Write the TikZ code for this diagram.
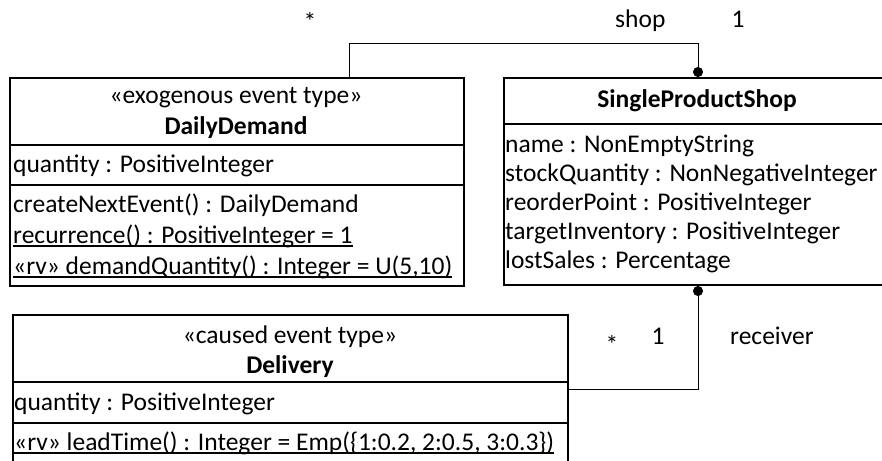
\documentclass[tikz,border=0pt]{standalone}
\usepackage{fontspec}
\setmainfont{Carlito}
\usetikzlibrary{arrows.meta}
\newcommand\ulined[1]{\setbox0=\hbox{#1}\makebox[0pt][l]{\rule[-3.5pt]{\wd0}{1.5pt}}\box0}

\begin{document}
\begin{tikzpicture}[x=1pt, y=-1pt,
    every node/.style={inner sep=0pt, font=\fontsize{25.5}{30}\selectfont},
    classbox/.style={draw, line width=2pt, anchor=north west},
    sep/.style={line width=2pt},
    txt/.style={anchor=base west},
    ctr/.style={anchor=base},
    assoc/.style={line width=1pt}]
            \useasboundingbox (0,0) rectangle (882,460);
            \clip (0,0) rectangle (882,460);

            % Class boxes
            \node [classbox, minimum width=454pt, minimum height=208pt] (dd) at (9,77) {};
            \node [classbox, minimum width=388pt, minimum height=207pt] (sps) at (503,77) {};
            \node [classbox, minimum width=555pt, minimum height=148pt] (dlv) at (12,314) {};

            % Compartment lines
            \draw [sep] ([yshift=-68pt]dd.north west) -- ([yshift=-68pt]dd.north east);
            \draw [sep] ([yshift=-108pt]dd.north west) -- ([yshift=-108pt]dd.north east);
            \draw [sep] ([yshift=-47pt]sps.north west) -- ([yshift=-47pt]sps.north east);
            \draw [sep] ([yshift=-68pt]dlv.north west) -- ([yshift=-68pt]dlv.north east);
            \draw [sep] ([yshift=-109pt]dlv.north west) -- ([yshift=-109pt]dlv.north east);

            % DailyDemand
            \node [ctr] (dd stereo) at (236,103) {«exogenous event type»};
            \node [ctr] (dd name) at (236,134) {\textbf{DailyDemand}};
            \node [txt] (dd qty) at (13,172) {quantity : PositiveInteger};
            \node [txt] (dd op1) at (13,212) {createNextEvent() : DailyDemand};
            \node [txt] (dd op2) at (13,243) {\ulined{recurrence() : PositiveInteger = 1}};
            \node [txt] (dd op3) at (13,274) {\ulined{«rv» demandQuantity() : Integer = U(5,10)}};

            % SingleProductShop
            \node [ctr] (sps name) at (697,107) {\textbf{SingleProductShop}};
            \foreach \attr [count=\i] in {name : NonEmptyString, stockQuantity : NonNegativeInteger,
                reorderPoint : PositiveInteger, targetInventory : PositiveInteger, lostSales : Percentage}
                \node [txt] (sps a\i) at (505,123+29*\i) {\attr};

            % Delivery
            \node [ctr] (dlv stereo) at (290,343) {«caused event type»};
            \node [ctr] (dlv name) at (290,373) {\textbf{Delivery}};
            \node [txt] (dlv qty) at (14,410) {quantity : PositiveInteger};
            \node [txt] (dlv op1) at (14,450) {\ulined{«rv» leadTime() : Integer = Emp(\{1:0.2, 2:0.5, 3:0.3\})}};

            % Association DailyDemand -- shop
            \coordinate (bend) at (349,44);
            \draw [assoc, -{Circle[length=10pt]}] (dd.north -| bend) -- (bend) -| (sps.north);
            \node [ctr] (star top) at (310,31) {*};
            \node [txt] (shop role) at (615,28) {shop};
            \node [ctr] (one top) at (738,28) {1};

            % Association Delivery -- receiver
            \draw [assoc, {Circle[length=10pt]}-] (sps.south) |- (dlv.east);
            \node [ctr] (star bot) at (612,353) {*};
            \node [ctr] (one bot) at (658,344) {1};
            \node [txt] (receiver role) at (730,344) {receiver};
        \end{tikzpicture}
\end{document}
